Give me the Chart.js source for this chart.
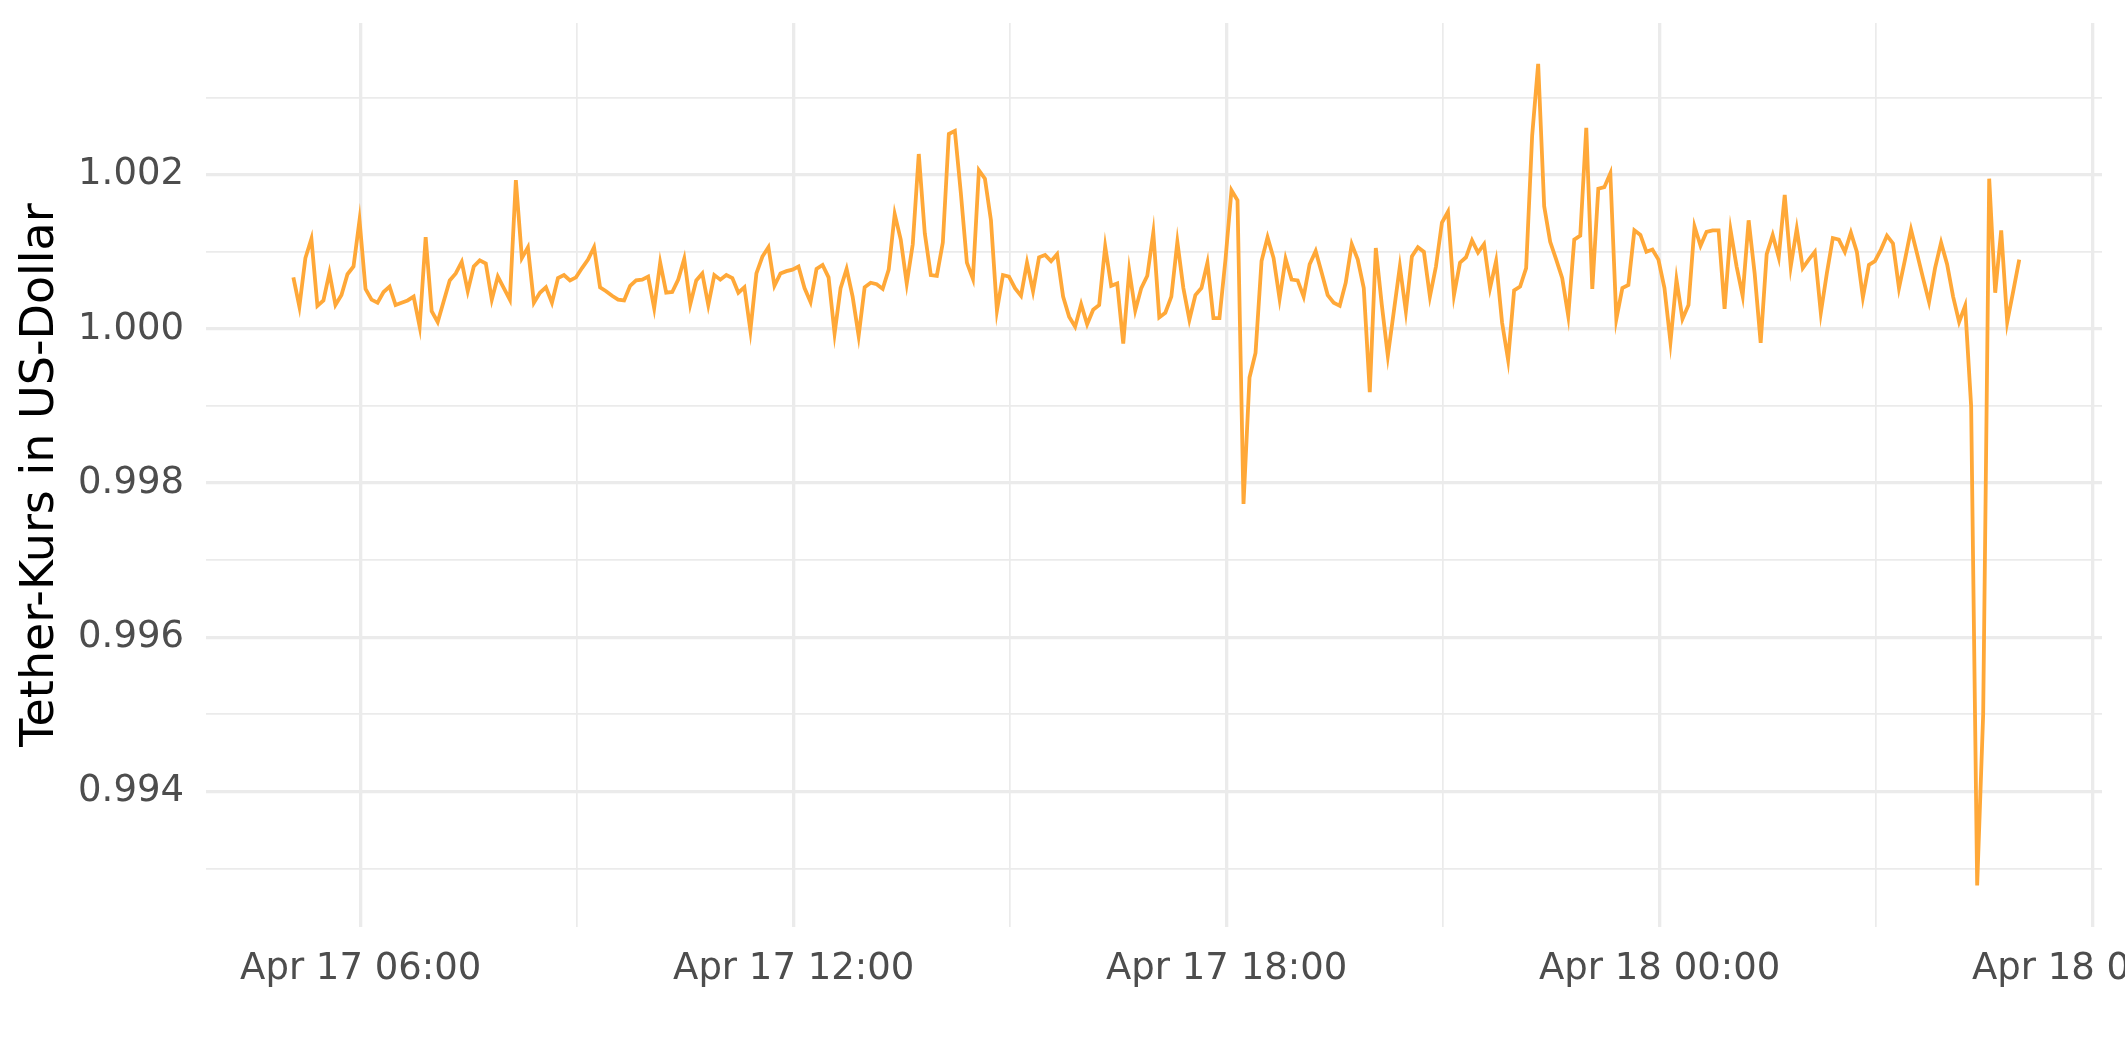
<!DOCTYPE html>
<html>
<head>
<meta charset="utf-8">
<title>Tether-Kurs</title>
<script src="https://cdn.jsdelivr.net/npm/chart.js@4.4.1/dist/chart.umd.min.js"></script>
<style>
    html, body { margin: 0; padding: 0; background: #ffffff; overflow: hidden; }
    canvas { display: block; }
</style>
</head>
<body>
<canvas id="tetherChart" width="2125" height="1062"></canvas>
<script>
// 5-Minuten-Werte ab Apr 17 05:04
const startHour = 5 + 4 / 60;
const stepMinutes = 5;

const prices = [
    1.00067, 1.00029, 1.00092, 1.00117, 1.00030, 1.00037, 1.00073, 1.00031, 1.00044, 1.00071,
    1.00081, 1.00141, 1.00052, 1.00038, 1.00034, 1.00048, 1.00055, 1.00031, 1.00034, 1.00037,
    1.00042, 1.00003, 1.00119, 1.00023, 1.00009, 1.00036, 1.00063, 1.00072, 1.00087, 1.00049,
    1.00081, 1.00089, 1.00085, 1.00038, 1.00068, 1.00053, 1.00038, 1.00193, 1.00092, 1.00106,
    1.00034, 1.00047, 1.00054, 1.00034, 1.00066, 1.00070, 1.00063, 1.00067, 1.00079, 1.00090,
    1.00106, 1.00054, 1.00049, 1.00043, 1.00038, 1.00037, 1.00056, 1.00063, 1.00064, 1.00068,
    1.00027, 1.00086, 1.00047, 1.00048, 1.00064, 1.00091, 1.00032, 1.00063, 1.00072, 1.00031,
    1.00070, 1.00064, 1.00070, 1.00066, 1.00047, 1.00054, 0.99998, 1.00072, 1.00094, 1.00106,
    1.00056, 1.00072, 1.00075, 1.00077, 1.00081, 1.00053, 1.00035, 1.00078, 1.00083, 1.00067,
    0.99994, 1.00053, 1.00078, 1.00042, 0.99991, 1.00054, 1.00060, 1.00058, 1.00052, 1.00077,
    1.00149, 1.00116, 1.00059, 1.00110, 1.00227, 1.00124, 1.00070, 1.00069, 1.00112, 1.00253,
    1.00257, 1.00176, 1.00086, 1.00065, 1.00206, 1.00195, 1.00141, 1.00024, 1.00070, 1.00068,
    1.00053, 1.00043, 1.00086, 1.00049, 1.00093, 1.00096, 1.00088, 1.00097, 1.00042, 1.00016,
    1.00003, 1.00032, 1.00006, 1.00025, 1.00031, 1.00107, 1.00056, 1.00059, 0.99981, 1.00076,
    1.00024, 1.00053, 1.00069, 1.00125, 1.00015, 1.00021, 1.00042, 1.00113, 1.00053, 1.00012,
    1.00044, 1.00053, 1.00086, 1.00014, 1.00014, 1.00090, 1.00180, 1.00167, 0.99773, 0.99937,
    0.99969, 1.00088, 1.00119, 1.00092, 1.00039, 1.00091, 1.00064, 1.00063, 1.00042, 1.00084,
    1.00101, 1.00073, 1.00044, 1.00034, 1.00030, 1.00060, 1.00110, 1.00090, 1.00053, 0.99918,
    1.00105, 1.00031, 0.99965, 1.00023, 1.00081, 1.00023, 1.00094, 1.00106, 1.00100, 1.00042,
    1.00081, 1.00138, 1.00152, 1.00044, 1.00086, 1.00093, 1.00115, 1.00099, 1.00110, 1.00053,
    1.00088, 1.00008, 0.99960, 1.00050, 1.00055, 1.00079, 1.00251, 1.00344, 1.00159, 1.00113,
    1.00090, 1.00066, 1.00017, 1.00116, 1.00121, 1.00261, 1.00052, 1.00182, 1.00184, 1.00202,
    1.00013, 1.00053, 1.00057, 1.00128, 1.00122, 1.00100, 1.00103, 1.00090, 1.00053, 0.99983,
    1.00064, 1.00013, 1.00031, 1.00133, 1.00108, 1.00126, 1.00128, 1.00128, 1.00026, 1.00128,
    1.00081, 1.00043, 1.00141, 1.00072, 0.99982, 1.00097, 1.00122, 1.00093, 1.00174, 1.00081,
    1.00130, 1.00079, 1.00090, 1.00100, 1.00021, 1.00072, 1.00118, 1.00116, 1.00100, 1.00125,
    1.00100, 1.00041, 1.00083, 1.00088, 1.00103, 1.00121, 1.00111, 1.00053, 1.00090, 1.00129,
    1.00098, 1.00066, 1.00035, 1.00079, 1.00112, 1.00084, 1.00042, 1.00009, 1.00030, 0.99900,
    0.99278, 0.99500, 1.00195, 1.00047, 1.00128, 1.00009, 1.00049, 1.00090
];

// Achsen: Stunden seit Apr 17 00:00
const xMajorHours = [6, 12, 18, 24, 30];
const xMajorLabels = ["Apr 17 06:00", "Apr 17 12:00", "Apr 17 18:00", "Apr 18 00:00", "Apr 18 06:00"];
const xMinorHours = [9, 15, 21, 27];
const yMajorTicks = [0.994, 0.996, 0.998, 1.000, 1.002];
const yMinorTicks = [0.993, 0.995, 0.997, 0.999, 1.001, 1.003];

const gridColor = "#EBEBEB";
const labelFont = { family: "DejaVu Sans", size: 37 };

var points = prices.map(function (p, i) {
    return { x: startHour + i * stepMinutes / 60, y: p };
});

var isMajorY = function (v) {
    return Math.round(v * 1000) % 2 === 0;
};

var ctx = document.getElementById("tetherChart").getContext("2d");
var tetherChart = new Chart(ctx, {
    type: "line",
    data: {
        datasets: [
            {
                data: points,
                borderColor: "#FFA838",
                borderWidth: 3.8,
                pointRadius: 0,
                tension: 0,
                fill: false,
            },
        ],
    },
    options: {
        responsive: false,
        animation: false,
        parsing: false,
        layout: { padding: { top: 23, right: 23, left: 0, bottom: 0 } },
        plugins: {
            legend: { display: false },
            tooltip: { enabled: false },
        },
        scales: {
            x: {
                type: "linear",
                min: 3.856,
                max: 30.13,
                afterBuildTicks: function (scale) {
                    scale.ticks = xMajorHours.concat(xMinorHours)
                        .sort(function (a, b) { return a - b; })
                        .map(function (v) { return { value: v }; });
                },
                afterFit: function (scale) {
                    scale.height = 135;
                    scale.paddingLeft = 0;
                    scale.paddingRight = 0;
                },
                ticks: {
                    autoSkip: false,
                    maxRotation: 0,
                    minRotation: 0,
                    padding: 20,
                    color: "#4D4D4D",
                    font: labelFont,
                    callback: function (value) {
                        var idx = xMajorHours.indexOf(value);
                        return idx >= 0 ? xMajorLabels[idx] : "";
                    },
                },
                grid: {
                    color: gridColor,
                    drawTicks: false,
                    lineWidth: function (c) {
                        return xMajorHours.indexOf(c.tick.value) >= 0 ? 3.3 : 1.7;
                    },
                },
                border: { display: false },
            },
            y: {
                min: 0.99224,
                max: 1.00397,
                afterBuildTicks: function (scale) {
                    scale.ticks = yMajorTicks.concat(yMinorTicks)
                        .sort(function (a, b) { return a - b; })
                        .map(function (v) { return { value: v }; });
                },
                afterFit: function (scale) {
                    scale.width = 206;
                    scale.paddingTop = 0;
                    scale.paddingBottom = 0;
                },
                ticks: {
                    padding: 22,
                    color: "#4D4D4D",
                    font: labelFont,
                    callback: function (value) {
                        return isMajorY(value) ? value.toFixed(3) : "";
                    },
                },
                grid: {
                    color: gridColor,
                    drawTicks: false,
                    lineWidth: function (c) {
                        return isMajorY(c.tick.value) ? 3.3 : 1.7;
                    },
                },
                border: { display: false },
                title: {
                    display: true,
                    text: "Tether-Kurs in US-Dollar",
                    color: "#000000",
                    font: { family: "DejaVu Sans", size: 46 },
                    padding: { top: 13, bottom: 0 },
                },
            },
        },
    },
});
</script>
</body>
</html>
